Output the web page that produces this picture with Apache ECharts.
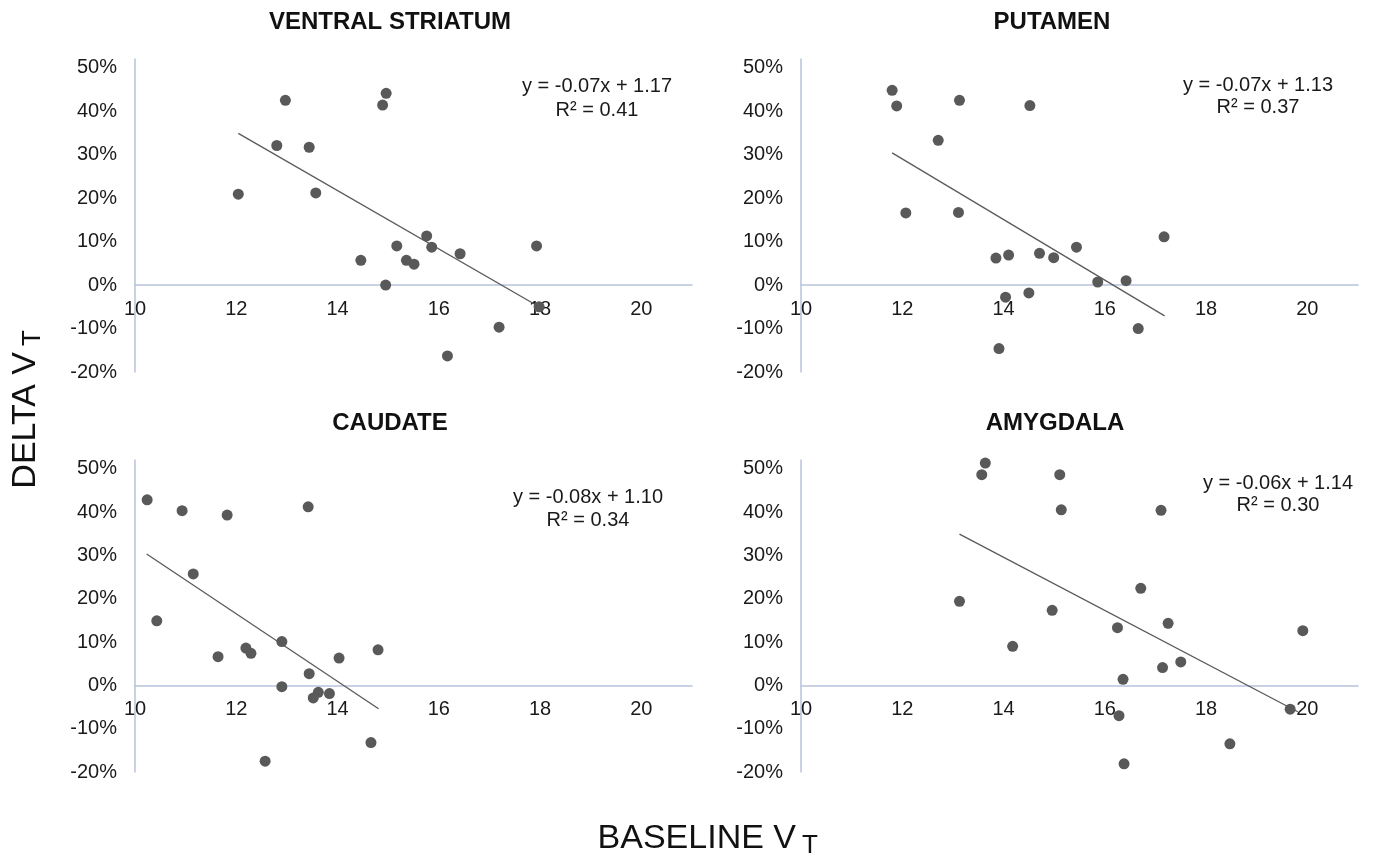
<!DOCTYPE html>
<html>
<head>
<meta charset="utf-8">
<script src="https://cdn.jsdelivr.net/npm/echarts@6/dist/echarts.min.js"></script>
<style>
html,body{margin:0;padding:0;background:#fff;}
#chart{width:1373px;height:861px;}
</style>
</head>
<body>
<div id="chart"></div>
<script>
// ---- data ----
var panelTitles = ['VENTRAL STRIATUM', 'PUTAMEN', 'CAUDATE', 'AMYGDALA'];
var equations = ['y = -0.07x + 1.17', 'y = -0.07x + 1.13', 'y = -0.08x + 1.10', 'y = -0.06x + 1.14'];
var rSquared = ['R² = 0.41', 'R² = 0.37', 'R² = 0.34', 'R² = 0.30'];
var xTicks = [10, 12, 14, 16, 18, 20];

var vsX = [12.04, 12.97, 12.80, 13.44, 13.57, 14.96, 14.89, 14.46, 15.17, 15.36, 15.51, 14.95, 15.76, 15.86, 16.42, 17.93, 17.98, 17.19, 16.17];
var vsY = [0.209, 0.425, 0.321, 0.317, 0.212, 0.441, 0.414, 0.057, 0.090, 0.057, 0.048, 0.000, 0.113, 0.087, 0.072, 0.090, -0.050, -0.097, -0.163];
var vsTrendX = [12.04, 17.98];
var vsTrendY = [0.349, -0.050];

var puX = [11.80, 11.89, 13.13, 14.52, 12.71, 12.07, 13.11, 13.85, 14.10, 14.71, 14.99, 15.44, 14.04, 14.50, 13.91, 17.17, 15.86, 16.42, 16.66];
var puY = [0.448, 0.412, 0.425, 0.413, 0.333, 0.166, 0.167, 0.062, 0.069, 0.073, 0.063, 0.087, -0.028, -0.018, -0.146, 0.111, 0.007, 0.010, -0.100];
var puTrendX = [11.80, 17.18];
var puTrendY = [0.304, -0.071];

var caX = [10.24, 10.93, 11.82, 13.42, 11.15, 10.43, 11.64, 12.19, 12.29, 12.90, 13.44, 14.03, 14.80, 12.90, 13.62, 13.52, 13.84, 14.66, 12.57];
var caY = [0.428, 0.403, 0.393, 0.412, 0.257, 0.149, 0.066, 0.086, 0.074, 0.101, 0.027, 0.063, 0.082, -0.003, -0.016, -0.029, -0.019, -0.132, -0.175];
var caTrendX = [10.23, 14.81];
var caTrendY = [0.303, -0.054];

var amX = [13.64, 13.57, 15.11, 15.14, 13.13, 14.96, 14.18, 17.11, 16.71, 16.25, 17.25, 19.91, 17.14, 17.50, 16.36, 16.28, 19.66, 18.47, 16.38];
var amY = [0.513, 0.486, 0.486, 0.405, 0.194, 0.173, 0.090, 0.404, 0.224, 0.133, 0.143, 0.126, 0.041, 0.054, 0.014, -0.070, -0.055, -0.135, -0.181];
var amTrendX = [13.13, 19.81];
var amTrendY = [0.349, -0.061];

// ---- layout ----
var FONT = '"Liberation Sans", Arial, sans-serif';
var Y_MIN = -0.2, Y_MAX = 0.52;
var grids = [
  {left: 135, top: 59, width: 557, height: 313},
  {left: 801, top: 59, width: 557, height: 313},
  {left: 135, top: 460, width: 557, height: 312},
  {left: 801, top: 460, width: 557, height: 312}
];
var titlePos = [[390, 22], [1052, 22], [390, 423], [1055, 423]];
var eqPos = [[597, 86, 110], [1258, 85, 107], [588, 497, 520], [1278, 483, 505]];

function zip(xs, ys) { return xs.map(function (x, i) { return [x, ys[i]]; }); }
var scatterData = [zip(vsX, vsY), zip(puX, puY), zip(caX, caY), zip(amX, amY)];
var trendData = [zip(vsTrendX, vsTrendY), zip(puTrendX, puTrendY), zip(caTrendX, caTrendY), zip(amTrendX, amTrendY)];

var axisColor = '#b6c3db';
var xAxes = [], yAxes = [], series = [], graphics = [];
for (var i = 0; i < 4; i++) {
  // move the horizontal axis (line + labels) up to the 0% level
  var zeroOffset = -(0 - Y_MIN) / (Y_MAX - Y_MIN) * grids[i].height;
  xAxes.push({
    type: 'value', gridIndex: i, min: xTicks[0], max: 21, interval: 2,
    position: 'bottom', offset: zeroOffset,
    axisLine: {onZero: false, lineStyle: {color: axisColor, width: 1.5}},
    axisTick: {show: false}, splitLine: {show: false},
    axisLabel: {color: '#1a1a1a', fontSize: 20, fontFamily: FONT, margin: 14, showMaxLabel: false}
  });
  yAxes.push({
    type: 'value', gridIndex: i, min: Y_MIN, max: Y_MAX, interval: 0.1,
    axisLine: {show: true, onZero: false, lineStyle: {color: axisColor, width: 1.5}},
    axisTick: {show: false}, splitLine: {show: false},
    axisLabel: {color: '#1a1a1a', fontSize: 20, fontFamily: FONT, margin: 18, showMaxLabel: false,
      formatter: function (v) { return Math.round(v * 100) + '%'; }}
  });
  series.push({
    type: 'scatter', xAxisIndex: i, yAxisIndex: i, data: scatterData[i],
    symbolSize: 11, itemStyle: {color: '#595959', opacity: 1}, z: 3
  });
  series.push({
    type: 'line', xAxisIndex: i, yAxisIndex: i, data: trendData[i],
    showSymbol: false, symbol: 'none', lineStyle: {color: '#5a5a5a', width: 1.3}, z: 2
  });
  graphics.push({type: 'text', style: {text: panelTitles[i], x: titlePos[i][0], y: titlePos[i][1],
    font: 'bold 24px ' + FONT, fill: '#111', align: 'center', verticalAlign: 'middle',
    textAlign: 'center', textVerticalAlign: 'middle'}});
  graphics.push({type: 'text', style: {text: equations[i], x: eqPos[i][0], y: eqPos[i][1],
    font: '20px ' + FONT, fill: '#1a1a1a', align: 'center', verticalAlign: 'middle',
    textAlign: 'center', textVerticalAlign: 'middle'}});
  graphics.push({type: 'text', style: {text: rSquared[i], x: eqPos[i][0], y: eqPos[i][2],
    font: '20px ' + FONT, fill: '#1a1a1a', align: 'center', verticalAlign: 'middle',
    textAlign: 'center', textVerticalAlign: 'middle'}});
}

// axis titles
graphics.push({type: 'text', style: {text: 'BASELINE V', x: 796, y: 839, font: '34px ' + FONT, fill: '#111',
  align: 'right', verticalAlign: 'middle', textAlign: 'right', textVerticalAlign: 'middle'}});
graphics.push({type: 'text', style: {text: 'T', x: 802, y: 846, font: '26px ' + FONT, fill: '#111',
  align: 'left', verticalAlign: 'middle', textAlign: 'left', textVerticalAlign: 'middle'}});
graphics.push({type: 'group', x: 26, y: 352, rotation: Math.PI / 2, children: [
  {type: 'text', style: {text: 'DELTA V', x: 0, y: 0, font: '34px ' + FONT, fill: '#111',
    align: 'right', verticalAlign: 'middle', textAlign: 'right', textVerticalAlign: 'middle'}},
  {type: 'text', style: {text: 'T', x: 6, y: 7, font: '26px ' + FONT, fill: '#111',
    align: 'left', verticalAlign: 'middle', textAlign: 'left', textVerticalAlign: 'middle'}}
]});

var chart = echarts.init(document.getElementById('chart'), null, {renderer: 'canvas'});
chart.setOption({
  animation: false,
  backgroundColor: '#ffffff',
  grid: grids,
  xAxis: xAxes,
  yAxis: yAxes,
  series: series,
  graphic: graphics
});
</script>
</body>
</html>
